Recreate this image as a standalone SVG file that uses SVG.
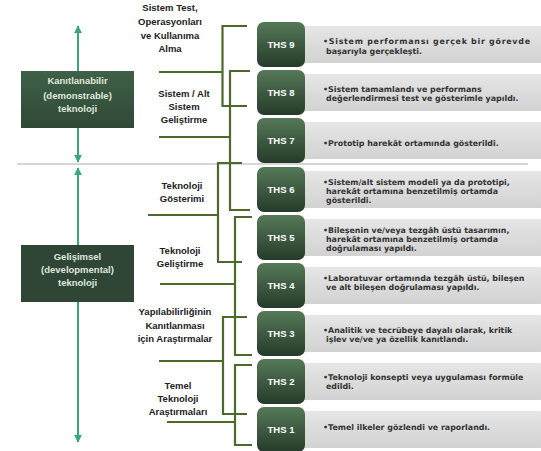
<svg xmlns="http://www.w3.org/2000/svg" width="541" height="451" viewBox="0 0 541 451">
<defs>
<linearGradient id="gBox" x1="0" y1="0" x2="0" y2="1"><stop offset="0" stop-color="#557a58"/><stop offset="1" stop-color="#263a2a"/></linearGradient>
<linearGradient id="gBar" x1="0" y1="0" x2="0" y2="1"><stop offset="0" stop-color="#e6e6e6"/><stop offset="1" stop-color="#d2d2d2"/></linearGradient>
<linearGradient id="gK" x1="0" y1="0" x2="0" y2="1"><stop offset="0" stop-color="#3f6147"/><stop offset="1" stop-color="#2f4836"/></linearGradient>
<marker id="ah" viewBox="0 0 10 10" refX="9" refY="5" markerWidth="4" markerHeight="4" orient="auto-start-reverse"><path d="M0,0 L10,5 L0,10 z" fill="#3aa57c"/></marker>
</defs>
<style>
.bar{fill:url(#gBar)}
.ths{fill:url(#gBox)}
.thst{font-family:"Liberation Sans",Arial,sans-serif;font-weight:bold;font-size:9.5px;fill:#ffffff;text-anchor:middle}
.desc{font-family:"DejaVu Sans","Liberation Sans",sans-serif;font-weight:bold;font-size:7.9px;fill:#333333}
.lab{font-family:"Liberation Sans",Arial,sans-serif;font-weight:bold;font-size:9.5px;fill:#222222;text-anchor:middle}
.side{font-family:"Liberation Sans",Arial,sans-serif;font-weight:bold;font-size:9.5px;fill:#dfe8df;text-anchor:middle}
.br{fill:none;stroke:#4b6a2c;stroke-width:2.2}
.ar{stroke:#3aa57c;stroke-width:2;fill:none}
</style>
<line x1="17" y1="164" x2="528" y2="164" stroke="#d6d6d6" stroke-width="2"/>
<g id="connectors">
<line class="ar" x1="78" y1="162" x2="78" y2="26" marker-start="url(#ah)" marker-end="url(#ah)"/>
<line class="ar" x1="78" y1="168" x2="78" y2="442" marker-start="url(#ah)" marker-end="url(#ah)"/>
<path class="br" d="M247,26 H222.5 V106 H247 M159,72 H222.5"/>
<path class="br" d="M250,71 H230 V210 H250 M159,137 H230"/>
<path class="br" d="M242,163 H218 V262 H242 M148,215 H218"/>
<path class="br" d="M252,217 H235 V355 H252 M160,284 H235"/>
<path class="br" d="M247,317 H223 V414 H247 M159,361 H223"/>
<path class="br" d="M252,365 H235 V445 H252 M167,422 H235"/>
</g>
<g id="kanitlanabilir">
<rect x="21" y="71" width="113" height="57" fill="url(#gK)"/>
<text class="side" x="77.5" y="84">Kanıtlanabilir</text>
<text class="side" x="77.5" y="99">(demonstrable)</text>
<text class="side" x="77.5" y="112">teknoloji</text>
</g>
<g id="gelisimsel">
<rect x="21" y="245" width="113" height="57" fill="#2f4536"/>
<text class="side" x="77.5" y="260">Gelişimsel</text>
<text class="side" x="77.5" y="273">(developmental)</text>
<text class="side" x="77.5" y="286">teknoloji</text>
</g>
<g id="lab-sistemtest">
<text class="lab" x="170" y="11">Sistem Test,</text>
<text class="lab" x="170" y="25">Operasyonları</text>
<text class="lab" x="170" y="38.5">ve Kullanıma</text>
<text class="lab" x="170" y="52">Alma</text>
</g>
<g id="lab-sistemalt">
<text class="lab" x="184" y="97">Sistem / Alt</text>
<text class="lab" x="184" y="110">Sistem</text>
<text class="lab" x="184" y="123">Geliştirme</text>
</g>
<g id="lab-gosterim">
<text class="lab" x="182" y="188.5">Teknoloji</text>
<text class="lab" x="182" y="201.5">Gösterimi</text>
</g>
<g id="lab-gelistirme">
<text class="lab" x="180" y="253.5">Teknoloji</text>
<text class="lab" x="180" y="267">Geliştirme</text>
</g>
<g id="lab-yapilabilirlik">
<text class="lab" x="175" y="315">Yapılabilirliğinin</text>
<text class="lab" x="175" y="328.5">Kanıtlanması</text>
<text class="lab" x="175" y="342">için Araştırmalar</text>
</g>
<g id="lab-temel">
<text class="lab" x="178" y="388.5">Temel</text>
<text class="lab" x="178" y="402">Teknoloji</text>
<text class="lab" x="178" y="414.5">Araştırmaları</text>
</g>
<g id="ths9">
<rect class="bar" x="300" y="26" width="241" height="37"/>
<rect class="ths" x="257" y="22" width="48" height="45" rx="7"/>
<text class="thst" x="281" y="48">THS 9</text>
<text class="desc" x="323" y="44" textLength="207" lengthAdjust="spacing">•Sistem performansı gerçek bir görevde</text>
<text class="desc" x="326" y="53.5">başarıyla gerçekleşti.</text>
</g>
<g id="ths8">
<rect class="bar" x="300" y="74" width="241" height="37"/>
<rect class="ths" x="257" y="70" width="48" height="45" rx="7"/>
<text class="thst" x="281" y="96">THS 8</text>
<text class="desc" x="323" y="92">•Sistem tamamlandı ve performans</text>
<text class="desc" x="326" y="101">değerlendirmesi test ve gösterimle yapıldı.</text>
</g>
<g id="ths7">
<rect class="bar" x="300" y="122" width="241" height="37"/>
<rect class="ths" x="257" y="118" width="48" height="45" rx="7"/>
<text class="thst" x="281" y="144">THS 7</text>
<text class="desc" x="323" y="146">•Prototip harekât ortamında gösterildi.</text>
</g>
<g id="ths6">
<rect class="bar" x="300" y="171" width="241" height="37"/>
<rect class="ths" x="257" y="167" width="48" height="45" rx="7"/>
<text class="thst" x="281" y="193">THS 6</text>
<text class="desc" x="323" y="184.5">•Sistem/alt sistem modeli ya da prototipi,</text>
<text class="desc" x="326" y="193.5">harekât ortamına benzetilmiş ortamda</text>
<text class="desc" x="326" y="202.5">gösterildi.</text>
</g>
<g id="ths5">
<rect class="bar" x="300" y="219" width="241" height="37"/>
<rect class="ths" x="257" y="215" width="48" height="45" rx="7"/>
<text class="thst" x="281" y="241">THS 5</text>
<text class="desc" x="323" y="233">•Bileşenin ve/veya tezgâh üstü tasarımın,</text>
<text class="desc" x="326" y="242">harekât ortamına benzetilmiş ortamda</text>
<text class="desc" x="326" y="251">doğrulaması yapıldı.</text>
</g>
<g id="ths4">
<rect class="bar" x="300" y="267" width="241" height="37"/>
<rect class="ths" x="257" y="263" width="48" height="45" rx="7"/>
<text class="thst" x="281" y="289">THS 4</text>
<text class="desc" x="323" y="281">•Laboratuvar ortamında tezgâh üstü, bileşen</text>
<text class="desc" x="326" y="290">ve alt bileşen doğrulaması yapıldı.</text>
</g>
<g id="ths3">
<rect class="bar" x="300" y="315" width="241" height="37"/>
<rect class="ths" x="257" y="311" width="48" height="45" rx="7"/>
<text class="thst" x="281" y="337">THS 3</text>
<text class="desc" x="323" y="333">•Analitik ve tecrübeye dayalı olarak, kritik</text>
<text class="desc" x="326" y="342">işlev ve/ve ya özellik kanıtlandı.</text>
</g>
<g id="ths2">
<rect class="bar" x="300" y="363" width="241" height="37"/>
<rect class="ths" x="257" y="359" width="48" height="45" rx="7"/>
<text class="thst" x="281" y="385">THS 2</text>
<text class="desc" x="323" y="380">•Teknoloji konsepti veya uygulaması formüle</text>
<text class="desc" x="326" y="389">edildi.</text>
</g>
<g id="ths1">
<rect class="bar" x="300" y="411" width="241" height="37"/>
<rect class="ths" x="257" y="407" width="48" height="45" rx="7"/>
<text class="thst" x="281" y="433">THS 1</text>
<text class="desc" x="323" y="430">•Temel ilkeler gözlendi ve raporlandı.</text>
</g>
</svg>
